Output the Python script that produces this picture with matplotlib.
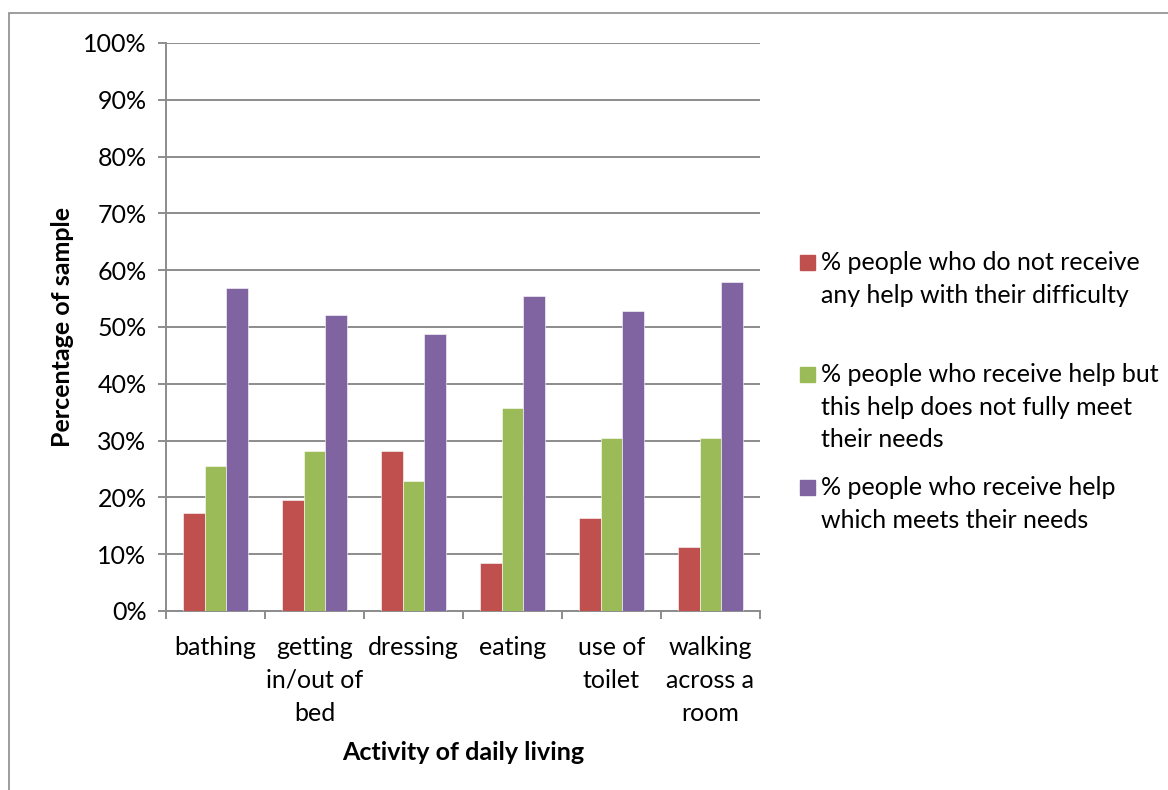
import matplotlib

matplotlib.use("Agg")
from matplotlib import pyplot as plt
from matplotlib.patches import Rectangle
import numpy as np

activities = ['bathing', 'getting\nin/out of\nbed', 'dressing', 'eating',
              'use of\ntoilet', 'walking\nacross a\nroom']
no_help = [17.2, 19.5, 28.1, 8.5, 16.4, 11.3]
help_not_enough = [25.5, 28.1, 22.8, 35.8, 30.4, 30.5]
help_meets = [56.8, 52.2, 48.8, 55.5, 52.9, 57.9]

series_labels = [
    '% people who do not receive\nany help with their difficulty',
    '% people who receive help but\nthis help does not fully meet\ntheir needs',
    '% people who receive help\nwhich meets their needs',
]
colors = ['#C0504D', '#9BBB59', '#8064A2']

plt.rcParams['font.family'] = ['Lato', 'DejaVu Sans']
FS = 18
W, H = 1168, 790
fig = plt.figure(figsize=(W / 100, H / 100), dpi=100)
ax = fig.add_axes([166 / W, 1 - 611 / H, (760 - 166) / W, (611 - 43) / H])

# outer chart border
fig.patches.append(Rectangle((9 / W, -0.1), 1.2, 1 - 13 / H + 0.1,
                             transform=fig.transFigure, fill=False,
                             edgecolor='#8c8c8c', linewidth=1.2))

x = np.arange(len(activities))
width = 0.222
for i, (vals, c) in enumerate(zip([no_help, help_not_enough, help_meets], colors)):
    ax.bar(x + (i - 1) * width, vals, width, color=c, edgecolor='white',
           linewidth=0.4, zorder=3)

ax.set_xlim(-0.5, len(activities) - 0.5)
ax.set_ylim(0, 100)
ax.set_yticks(np.arange(0, 101, 10))
ax.set_yticklabels(['{}%'.format(v) for v in range(0, 101, 10)], fontsize=FS)
ax.yaxis.grid(True, color='#8c8c8c', linewidth=1.4, zorder=0)
ax.set_axisbelow(True)

ax.set_xticks(np.arange(-0.5, len(activities), 1))
ax.set_xticklabels([])
ax.set_xticks(x, minor=True)
ax.set_xticklabels(activities, minor=True, fontsize=FS, linespacing=1.52,
                   va='top')
ax.tick_params(axis='x', which='minor', length=0, pad=18)
ax.tick_params(axis='x', which='major', length=6, width=1.4, color='#8c8c8c')
ax.tick_params(axis='y', length=6, width=1.4, color='#8c8c8c', pad=8)

for s in ['top', 'right']:
    ax.spines[s].set_visible(False)
for s in ['left', 'bottom']:
    ax.spines[s].set_color('#8c8c8c')
    ax.spines[s].set_linewidth(1.4)

fig.text(63 / W, 1 - 327 / H, 'Percentage of sample', rotation=90,
         ha='center', va='center', fontsize=FS, fontweight='bold')
fig.text(463 / W, 1 - 752 / H, 'Activity of daily living',
         ha='center', va='center', fontsize=FS, fontweight='bold')

# legend, placed by hand to follow the original spacing (baselines in px)
legend_baselines = [270, 382, 495]
line_step = 32.7
for lab, c, base in zip(series_labels, colors, legend_baselines):
    fig.patches.append(Rectangle((800 / W, 1 - base / H), 15 / W, 15 / H,
                                 transform=fig.transFigure, color=c))
    for k, line in enumerate(lab.split('\n')):
        fig.text(821 / W, 1 - (base + k * line_step) / H, line, ha='left',
                 va='baseline', fontsize=FS)

fig.savefig('out.png', dpi=100)
